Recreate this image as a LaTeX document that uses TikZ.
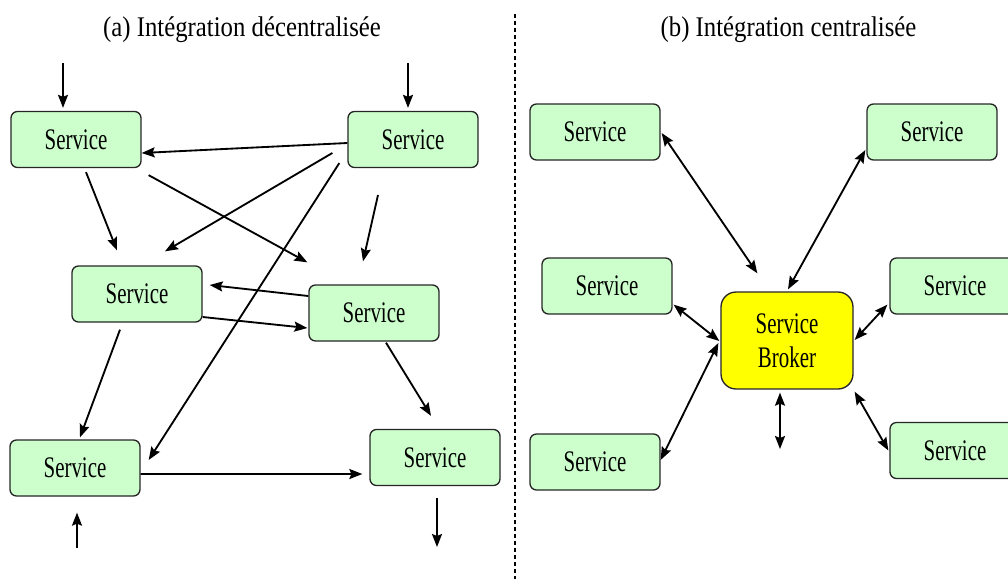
\documentclass[tikz,border=0pt]{standalone}
\usepackage{fontspec}
\setmainfont{Liberation Serif}[FakeStretch=0.70]
\newfontfamily\headfont{Liberation Serif}[FakeStretch=0.87]
\usetikzlibrary{positioning, arrows.meta, calc}
\definecolor{svcgreen}{RGB}{204,255,204}
\definecolor{brokeryellow}{RGB}{255,255,0}

\begin{document}
\begin{tikzpicture}[
  x=0.02cm, y=-0.02cm,
  box/.style={draw=black!85, line width=0.75pt, fill=svcgreen, rounded corners=0.13cm, minimum width=2.6cm, minimum height=1.12cm, inner sep=0pt, font=\fontsize{17}{19}\selectfont},
  broker/.style={box, fill=brokeryellow, rounded corners=0.3cm, minimum width=2.64cm, minimum height=1.94cm, align=center, font=\fontsize{17}{19.4}\selectfont},
  heading/.style={font=\headfont\fontsize{16.2}{19}\selectfont},
  arrow/.style={-{Stealth[length=2.6mm, width=2mm, inset=0.4mm]}, line width=1.05pt},
  twoway/.style={{Stealth[length=2.6mm, width=2mm, inset=0.4mm]}-{Stealth[length=2.6mm, width=2mm, inset=0.4mm]}, line width=1.05pt}
]
  \useasboundingbox (0,0) rectangle (1008,579);

  % (a) decentralised (left side)
  \node[heading, anchor=base] (titleA) at (242,36) {(a) Intégration décentralisée};

  \node[box] (tl) at (76,139.5) {Service};
  \node[box] (tr) at (413,139.5) {Service};
  \node[box] (ml) at (137,294) {Service};
  \node[box] (mr) at (374,313) {Service};
  \node[box] (bl) at (75,468) {Service};
  \node[box] (br) at (435,457.5) {Service};

  % free ends
  \coordinate (inTL) at (63,63);
  \coordinate (inTR) at (408,63);
  \coordinate (inMR) at (378,195);
  \coordinate (inBL) at (77,548);
  \coordinate (outBR) at (437,547);

  \draw[arrow] (inTL) -- ($(tl.north)+(-13,-3)$);
  \draw[arrow] (inTR) -- ($(tr.north)+(-5,-3)$);
  \draw[arrow] ($(tr.west)+(0,3.5)$) -- ($(tl.east)+(0,13.5)$);
  \draw[arrow] ($(tr.west)+(-15,13.5)$) -- ($(ml.north)+(28,-14)$);
  \draw[arrow] ($(tr.west)+(-8,23.5)$) -- ($(bl.east)+(8,-8)$);
  \draw[arrow] ($(tl.south)+(10,4)$) -- ($(ml.north)+(-20,-15)$);
  \draw[arrow] ($(tl.south east)+(7,7)$) -- ($(mr.north west)+(-1,-22)$);
  \draw[arrow] (inMR) -- ($(mr.north)+(-11,-23)$);
  \draw[arrow] ($(mr.west)+(0,-17)$) -- ($(ml.east)+(7,-9)$);
  \draw[arrow] ($(ml.east)+(0,23)$) -- ($(mr.west)+(-1,15)$);
  \draw[arrow] ($(ml.south)+(-17,7)$) -- ($(bl.north)+(5,-2)$);
  \draw[arrow] ($(mr.south)+(12,1)$) -- ($(br.north)+(-4,-13)$);
  \draw[arrow] ($(bl.east)+(0,6)$) -- ($(br.west)+(-7,16.5)$);
  \draw[arrow] (inBL) -- ($(bl.south)+(2,16)$);
  \draw[arrow] ($(br.south)+(2,12)$) -- (outBR);

  % separator
  \draw[line width=0.6pt, dash pattern=on 2.3pt off 1.7pt] (515,14) -- (515,579);

  % (b) centralised (right side)
  \node[heading, anchor=base] (titleB) at (788.5,36) {(b) Intégration centralisée};

  \node[box] (ctl) at (595,132) {Service};
  \node[box] (ctr) at (932,132) {Service};
  \node[box] (cml) at (607,286) {Service};
  \node[box] (cmr) at (955,286) {Service};
  \node[box] (cbl) at (595,462) {Service};
  \node[box] (cbr) at (955,450.5) {Service};
  \node[broker] (broker) at (787,340.5) {Service\\Broker};

  \coordinate (outBroker) at (780,449);

  \draw[twoway] ($(ctl.east)+(1,1)$) -- ($(broker.north west)+(37,-18)$);
  \draw[twoway] ($(ctr.west)+(-1,18)$) -- ($(broker.north)+(1,-2)$);
  \draw[twoway] ($(cml.south east)+(1,-10)$) -- ($(broker.west)+(-1,0.5)$);
  \draw[twoway] ($(cbl.east)+(0,-2)$) -- ($(broker.west)+(-2,2.5)$);
  \draw[twoway] ($(cmr.south west)+(-2,-10)$) -- ($(broker.east)+(1,-0.5)$);
  \draw[twoway] ($(cbr.west)+(-1,0)$) -- ($(broker.south east)+(1,2)$);
  \draw[twoway] ($(broker.south)+(-7,3)$) -- (outBroker);
\end{tikzpicture}
\end{document}
